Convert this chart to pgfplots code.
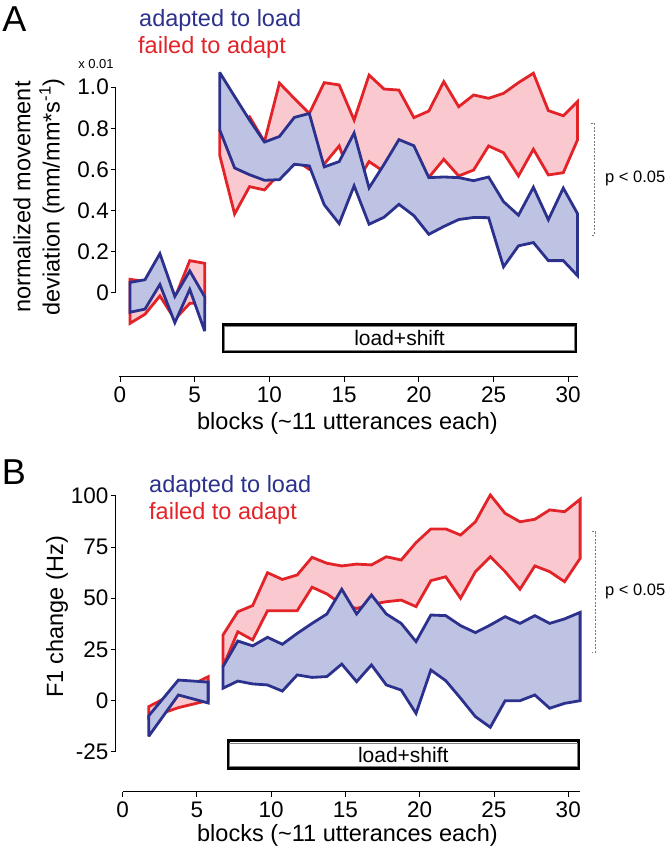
\documentclass[border=0pt]{standalone}
\usepackage{fontspec}
\setmainfont{Liberation Sans}
\usepackage{pgfplots}
\pgfplotsset{compat=1.18}
\definecolor{rline}{RGB}{226,35,40}
\definecolor{rfill}{RGB}{249,201,207}
\definecolor{bline}{RGB}{43,49,140}
\definecolor{bfill}{RGB}{191,195,227}
\definecolor{brgray}{RGB}{120,120,120}
\pgfplotsset{
  myax/.style={
    scale only axis, clip=false,
    axis line style={draw=none},
    tick align=outside, tick pos=left,
    major tick length=5pt,
    tick style={black, line width=1pt},
    ticklabel style={font=\fontsize{22.5}{27}\selectfont, inner sep=2pt},
    xticklabel style={yshift=-3pt},
    /pgf/number format/assume math mode=true,
  },
  rband/.style={draw=rline, fill=rfill, line width=2.8pt, line join=miter, miter limit=3},
  bband/.style={draw=bline, fill=bfill, line width=2.8pt, line join=miter, miter limit=3},
}
\begin{document}
\begin{tikzpicture}
\path[use as bounding box] (0pt,0pt) rectangle (670pt,853pt);
% ---------------- Panel A ----------------
\begin{axis}[myax,
  at={(120pt,560.3pt)}, anchor=origin,
  width=462.7pt, height=310.1pt,
  xmin=-0.27, xmax=30.7, ymin=-0.409, ymax=1.1,
  xtick={0,5,10,15,20,25,30},
  ytick={0,0.2,0.4,0.6,0.8,1}, yticklabels={0,0.2,0.4,0.6,0.8,1.0},
]
\draw[line width=1pt] (axis cs:-0.27,0) -- (axis cs:-0.27,1);
\draw[line width=1pt] (axis cs:-0.07,-0.409) -- (axis cs:30.67,-0.409);
% red baseline
\addplot[rband] coordinates {(0.67,0.065)(1.67,0.055)(2.67,0.18)(3.67,-0.025)(4.67,0.156)(5.67,0.143)
 (5.67,-0.05)(4.67,-0.052)(3.67,-0.13)(2.67,-0.016)(1.67,-0.105)(0.67,-0.149)} -- cycle;
% red shift
\addplot[rband] coordinates {(6.67,0.785)(7.67,0.80)(8.67,0.856)(9.67,0.735)(10.67,1.02)(11.67,0.945)(12.67,0.872)(13.67,1.022)(14.67,1.011)(15.67,0.84)(16.67,1.059)(17.67,0.991)(18.67,0.986)(19.67,0.852)(20.67,0.884)(21.67,1.027)(22.67,0.905)(23.67,0.962)(24.67,0.946)(25.67,0.970)(26.67,1.022)(27.67,1.068)(28.67,0.886)(29.67,0.861)(30.62,0.930)
 (30.62,0.743)(29.67,0.584)(28.67,0.573)(27.67,0.698)(26.67,0.568)(25.67,0.681)(24.67,0.714)(23.67,0.597)(22.67,0.568)(21.67,0.649)(20.67,0.561)(19.67,0.55)(18.67,0.57)(17.67,0.589)(16.67,0.638)(15.67,0.515)(14.67,0.714)(13.67,0.626)(12.67,0.6)(11.67,0.65)(10.67,0.58)(9.67,0.5)(8.67,0.516)(7.67,0.383)(6.67,0.67)} -- cycle;
% blue baseline
\addplot[bband] coordinates {(0.67,0.05)(1.67,0.063)(2.67,0.19)(3.67,-0.018)(4.67,0.106)(5.67,-0.02)
 (5.67,-0.187)(4.67,0.016)(3.67,-0.146)(2.67,0.04)(1.67,-0.08)(0.67,-0.095)} -- cycle;
% blue shift
\addplot[bband] coordinates {(6.67,1.072)(7.67,0.955)(8.67,0.84)(9.67,0.733)(10.67,0.76)(11.67,0.853)(12.67,0.872)(13.67,0.612)(14.67,0.638)(15.67,0.777)(16.67,0.51)(17.67,0.624)(18.67,0.745)(19.67,0.715)(20.67,0.56)(21.67,0.563)(22.67,0.56)(23.67,0.545)(24.67,0.563)(25.67,0.443)(26.67,0.377)(27.67,0.513)(28.67,0.355)(29.67,0.509)(30.62,0.385)
 (30.62,0.083)(29.67,0.156)(28.67,0.156)(27.67,0.244)(26.67,0.228)(25.67,0.126)(24.67,0.365)(23.67,0.366)(22.67,0.356)(21.67,0.322)(20.67,0.284)(19.67,0.375)(18.67,0.43)(17.67,0.367)(16.67,0.333)(15.67,0.52)(14.67,0.336)(13.67,0.428)(12.67,0.617)(11.67,0.625)(10.67,0.55)(9.67,0.547)(8.67,0.574)(7.67,0.607)(6.67,0.793)} -- cycle;
% load+shift box
\draw[line width=3pt, fill=white] (axis cs:6.93,-0.157) rectangle (axis cs:30.49,-0.288);
\draw[line width=0.6pt, gray] (axis cs:6.99,-0.165) rectangle (axis cs:30.43,-0.280);
\node[font=\fontsize{21}{25}\selectfont] at (axis cs:18.71,-0.2225) {load+shift};
\end{axis}
% ---------------- Panel B ----------------
\begin{axis}[myax,
  at={(122.7pt,152.5pt)}, anchor=origin,
  width=465.3pt, height=299.8pt,
  xmin=-0.48, xmax=30.85, ymin=-44.6, ymax=102,
  xtick={0,5,10,15,20,25,30},
  ytick={-25,0,25,50,75,100},
]
\draw[line width=1pt] (axis cs:-0.48,-25) -- (axis cs:-0.48,100);
\draw[line width=1pt] (axis cs:0,-44.6) -- (axis cs:30.8,-44.6);
\addplot[rband] coordinates {(1.75,-3.0)(3.75,4.5)(5.75,11.6)(5.75,0.0)(3.75,-3.5)(1.75,-8.5)} -- cycle;
\addplot[rband] coordinates {(6.75,32.0)(7.75,43.4)(8.75,46.4)(9.75,62.5)(10.75,59.2)(11.75,61.4)(12.75,70.0)(13.75,67.1)(14.75,65.8)(15.75,66.7)(16.75,66.3)(17.75,70.3)(18.75,68.7)(19.75,77.2)(20.75,83.9)(21.75,83.9)(22.75,80.9)(23.75,87.4)(24.75,100.5)(25.75,91.5)(26.75,87.4)(27.75,88.6)(28.75,93.2)(29.75,92.3)(30.8,98.4)
 (30.8,69.5)(29.75,58.1)(28.75,63.0)(27.75,65.8)(26.75,54.4)(25.75,63.0)(24.75,70.3)(23.75,63.0)(22.75,50.0)(21.75,60.5)(20.75,58.6)(19.75,45.9)(18.75,49.1)(17.75,48.3)(16.75,47)(15.75,45)(14.75,47)(13.75,52.1)(12.75,55.4)(11.75,43.9)(10.75,43.9)(9.75,43.9)(8.75,29.6)(7.75,33.6)(6.75,16.5)} -- cycle;
\addplot[bband] coordinates {(1.75,-7.5)(3.75,10.0)(5.75,9.0)(5.75,-1.2)(3.75,2.7)(1.75,-17.5)} -- cycle;
\addplot[bband] coordinates {(6.75,16.5)(7.75,29.1)(8.75,26.7)(9.75,30.9)(10.75,27.5)(11.75,32.8)(12.75,37.7)(13.75,42.3)(14.75,54.4)(15.75,42.3)(16.75,51.6)(17.75,42.3)(18.75,37.7)(19.75,28.8)(20.75,41.8)(21.75,41.5)(22.75,36.6)(23.75,33.2)(24.75,36.9)(25.75,41.0)(26.75,37.7)(27.75,41.5)(28.75,37.7)(29.75,39.9)(30.8,43.1)
 (30.8,-0.1)(29.75,-1.4)(28.75,-3.8)(27.75,2.7)(26.75,-0.1)(25.75,-0.1)(24.75,-13.1)(23.75,-7.9)(22.75,1.1)(21.75,9.7)(20.75,14.9)(19.75,-6.3)(18.75,5.1)(17.75,7.6)(16.75,17.4)(15.75,9.2)(14.75,17.8)(13.75,11.7)(12.75,11.3)(11.75,12.5)(10.75,4.6)(9.75,7.6)(8.75,8.1)(7.75,9.5)(6.75,6.0)} -- cycle;
\draw[line width=3pt, fill=white] (axis cs:7.09,-19.8) rectangle (axis cs:30.69,-33.2);
\draw[line width=0.6pt, gray] (axis cs:7.15,-20.9) rectangle (axis cs:30.63,-32.1);
\node[font=\fontsize{21}{25}\selectfont] at (axis cs:18.89,-26.5) {load+shift};
\end{axis}
% ---------------- texts (image y -> 853-y) ----------------
\node[font=\fontsize{36}{40}\selectfont] at (14.5pt,833.8pt) {A};
\node[font=\fontsize{36}{40}\selectfont] at (14pt,381.3pt) {B};
\node[anchor=base west, inner sep=0pt, text=bline, font=\fontsize{23.5}{28}\selectfont] at (139pt,826.3pt) {adapted to load};
\node[anchor=base west, inner sep=0pt, text=rline, font=\fontsize{23.5}{28}\selectfont] at (138pt,799.7pt) {failed to adapt};
\node[anchor=base west, inner sep=0pt, text=bline, font=\fontsize{23.5}{28}\selectfont] at (149pt,360.0pt) {adapted to load};
\node[anchor=base west, inner sep=0pt, text=rline, font=\fontsize{23.5}{28}\selectfont] at (149pt,333.7pt) {failed to adapt};
\node[font=\fontsize{13}{15}\selectfont] at (96pt,789pt) {x 0.01};
\node[rotate=90, font=\fontsize{23.5}{28}\selectfont] at (22pt,656pt) {normalized movement};
\node[rotate=90, font=\fontsize{23.5}{28}\selectfont] at (52pt,656pt) {deviation (mm/mm*s\textsuperscript{-1})};
\node[rotate=90, font=\fontsize{23.5}{28}\selectfont] at (57pt,236pt) {F1 change (Hz)};
\node[anchor=base, inner sep=0pt, font=\fontsize{23.5}{28}\selectfont] at (347.5pt,423pt) {blocks (\textasciitilde11 utterances each)};
\node[anchor=base, inner sep=0pt, font=\fontsize{23.5}{28}\selectfont] at (347.5pt,12pt) {blocks (\textasciitilde11 utterances each)};
% p brackets
\draw[brgray, line width=0.8pt, dash pattern=on 2pt off 1.5pt] (591pt,729.7pt) -- (594.5pt,729.7pt) -- (594.5pt,618pt) -- (591pt,618pt);
\draw[brgray, line width=0.8pt, dash pattern=on 2pt off 1.5pt] (591.5pt,321.3pt) -- (595pt,321.3pt) -- (595pt,200.7pt) -- (591.5pt,200.7pt);
\node[anchor=west, inner sep=0pt, font=\fontsize{16.5}{19}\selectfont] at (605pt,675pt) {p < 0.05};
\node[anchor=west, inner sep=0pt, font=\fontsize{16.5}{19}\selectfont] at (605pt,261.3pt) {p < 0.05};
\end{tikzpicture}
\end{document}
